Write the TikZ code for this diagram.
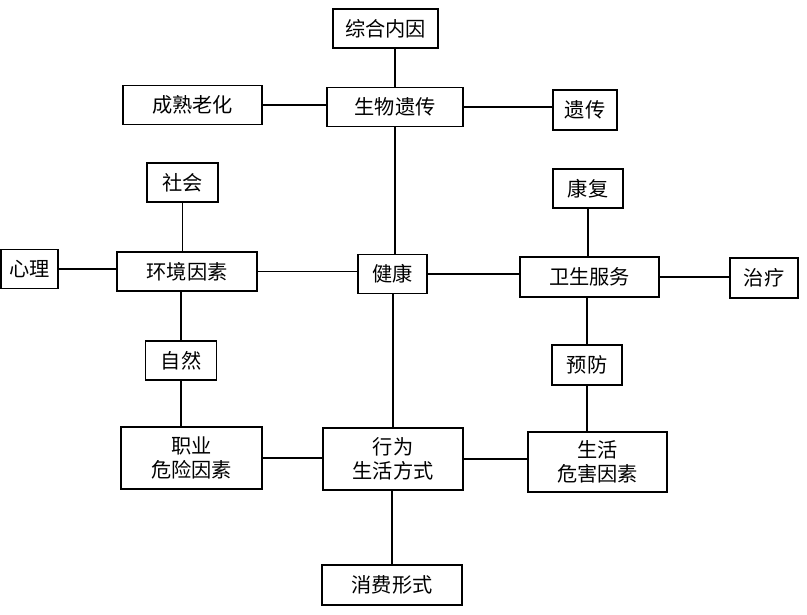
\documentclass[tikz,border=0pt]{standalone}
\usepackage{fontspec}
\newfontfamily\cjk{Noto Sans CJK SC}
\usepackage{tikz}

\begin{document}
\begin{tikzpicture}[
    box/.style={draw, line width=0.9pt, inner sep=0pt, align=center,
        minimum height=0.78cm, font=\cjk\fontsize{11.5}{13.6}\selectfont},
    link/.style={line width=0.9pt}
]
\useasboundingbox (0,0) rectangle (16.14,-12.3);

% Top row
\node[box, minimum width=2.1cm] (zonghe) at (7.71,-0.57) {综合内因};
\node[box, minimum width=2.72cm] (shengwu) at (7.9,-2.14) {生物遗传};
\node[box, minimum width=2.78cm] (chengshu) at (3.85,-2.1) {成熟老化};
\node[box, minimum width=1.28cm, minimum height=0.8cm] (yichuan) at (11.7,-2.2) {遗传};

% Left column
\node[box, minimum width=1.42cm] (shehui) at (3.65,-3.65) {社会};
\node[box, minimum width=1.14cm] (xinli) at (0.59,-5.38) {心理};
\node[box, minimum width=2.8cm] (huanjing) at (3.74,-5.43) {环境因素};
\node[box, minimum width=1.42cm] (ziran) at (3.62,-7.21) {自然};
\node[box, minimum width=2.82cm, minimum height=1.24cm] (zhiye) at (3.83,-9.16) {职业\\危险因素};

% Centre column
\node[box, minimum width=1.38cm] (jiankang) at (7.85,-5.48) {健康};
\node[box, minimum width=2.8cm, minimum height=1.24cm] (xingwei) at (7.86,-9.18) {行为\\生活方式};
\node[box, minimum width=2.8cm, minimum height=0.8cm] (xiaofei) at (7.84,-11.7) {消费形式};

% Right column
\node[box, minimum width=1.4cm] (kangfu) at (11.76,-3.77) {康复};
\node[box, minimum width=2.78cm, minimum height=0.8cm] (weisheng) at (11.79,-5.54) {卫生服务};
\node[box, minimum width=1.36cm, minimum height=0.8cm] (zhiliao) at (15.28,-5.56) {治疗};
\node[box, minimum width=1.4cm, minimum height=0.8cm] (yufang) at (11.74,-7.3) {预防};
\node[box, minimum width=2.78cm, minimum height=1.2cm] (shenghuo) at (11.95,-9.24) {生活\\危害因素};

% Vertical links
\draw[link] (shengwu.north) -- (shengwu.north |- zonghe.south);
\draw[link] (shengwu.south) -- (shengwu.south |- jiankang.north);
\draw[link] (xingwei.north) -- (xingwei.north |- jiankang.south);
\draw[link] (xiaofei.north) -- (xiaofei.north |- xingwei.south);
\draw[link] (shehui.south) -- (shehui.south |- huanjing.north);
\draw[link] (ziran.north) -- (ziran.north |- huanjing.south);
\draw[link] (ziran.south) -- (ziran.south |- zhiye.north);
\draw[link] (kangfu.south) -- (kangfu.south |- weisheng.north);
\draw[link] (yufang.north) -- (yufang.north |- weisheng.south);
\draw[link] (yufang.south) -- (yufang.south |- shenghuo.north);

% Horizontal links
\draw[link] (chengshu.east) -- (chengshu.east -| shengwu.west);
\draw[link] (shengwu.east) -- (shengwu.east -| yichuan.west);
\draw[link] (xinli.east) -- (xinli.east -| huanjing.west);
\draw[link] (huanjing.east) -- (huanjing.east -| jiankang.west);
\draw[link] (jiankang.east) -- (jiankang.east -| weisheng.west);
\draw[link] (weisheng.east) -- (weisheng.east -| zhiliao.west);
\draw[link] (zhiye.east) -- (zhiye.east -| xingwei.west);
\draw[link] (xingwei.east) -- (xingwei.east -| shenghuo.west);
\end{tikzpicture}
\end{document}
